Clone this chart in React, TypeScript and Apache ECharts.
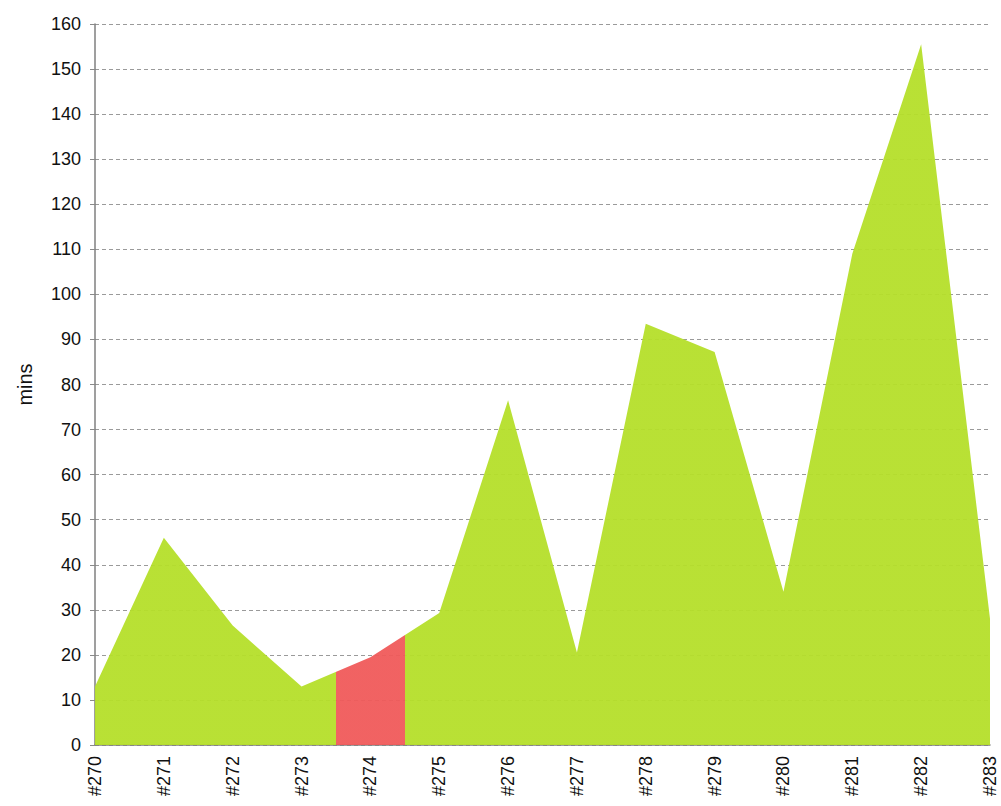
import React, { useEffect, useRef } from "react";
import * as echarts from "echarts";

const categories = ["#270", "#271", "#272", "#273", "#274", "#275", "#276", "#277", "#278", "#279", "#280", "#281", "#282", "#283"];
const durations = [13, 46, 26.5, 13, 19.5, 29.3, 76.5, 20.5, 93.5, 87.2, 34, 109, 155.5, 28];
const yTicks = { min: 0, max: 160, interval: 10 };
const highlightRange = { from: 3.5, to: 4.5 };

export default function App() {
  const ref = useRef<HTMLDivElement>(null);
  useEffect(() => {
    if (!ref.current) return;
    const chart = echarts.init(ref.current, null, { renderer: "svg" });
    const font = "'Liberation Sans', Arial, sans-serif";
    const points = durations.map((v, i) => [i, v]);
    chart.setOption({
      animation: false,
      grid: { left: 95, right: 11, top: 24, bottom: 61, containLabel: false },
      visualMap: {
        show: false,
        dimension: 0,
        seriesIndex: 0,
        pieces: [
          { lte: highlightRange.from, color: "#b5df2a" },
          { gt: highlightRange.from, lte: highlightRange.to, color: "#f05a5a" },
          { gt: highlightRange.to, color: "#b5df2a" },
        ],
      },
      xAxis: {
        type: "value",
        min: 0,
        max: categories.length - 1,
        interval: 1,
        axisLine: { lineStyle: { color: "#7f7f7f", width: 1.5 } },
        axisTick: { show: false },
        axisLabel: {
          rotate: 90,
          color: "#111",
          fontSize: 18,
          fontFamily: font,
          margin: 11,
          showMinLabel: true,
          showMaxLabel: true,
          formatter: (v: number) => categories[Math.round(v)] ?? "",
        },
        splitLine: { show: false },
      },
      yAxis: {
        type: "value",
        min: yTicks.min,
        max: yTicks.max,
        interval: yTicks.interval,
        name: "mins",
        nameLocation: "middle",
        nameRotate: 90,
        nameGap: 60,
        nameTextStyle: { color: "#111", fontSize: 20, fontFamily: font },
        axisLine: { show: true, lineStyle: { color: "#7f7f7f", width: 1.5 } },
        axisTick: { show: true, length: 5, lineStyle: { color: "#8a8a8a" } },
        axisLabel: { color: "#111", fontSize: 18, fontFamily: font, margin: 14 },
        splitLine: { show: true, lineStyle: { color: "#9a9a9a", type: [4, 3], width: 1 } },
      },
      series: [
        {
          type: "line",
          data: points,
          symbol: "none",
          lineStyle: { width: 0 },
          areaStyle: { opacity: 0.95 },
        },
      ],
    });
    return () => chart.dispose();
  }, []);
  return <div ref={ref} style={{ width: 1001, height: 806, position: "absolute", left: 0, top: 0 }} />;
}
